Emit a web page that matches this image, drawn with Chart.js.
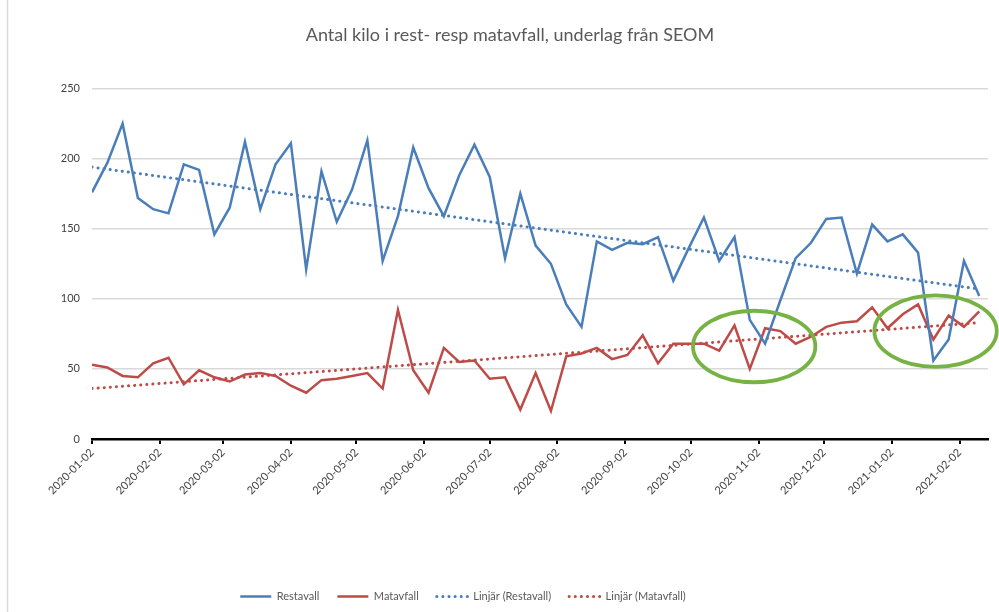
<!DOCTYPE html>
<html lang="sv">
<head>
<meta charset="UTF-8">
<script src="https://cdnjs.cloudflare.com/ajax/libs/Chart.js/4.4.1/chart.umd.min.js"></script>
<style>
  html, body { margin: 0; padding: 0; background: #fff; }
</style>
<title>Antal kilo i rest- resp matavfall</title>
</head>
<body>
<canvas id="canvas" width="999" height="612"></canvas>
<script>
// weekly samples
const weeks = [
  '2020-01-02','2020-01-09','2020-01-16','2020-01-23','2020-01-30',
  '2020-02-06','2020-02-13','2020-02-20','2020-02-27',
  '2020-03-05','2020-03-12','2020-03-19','2020-03-26',
  '2020-04-02','2020-04-09','2020-04-16','2020-04-23','2020-04-30',
  '2020-05-07','2020-05-14','2020-05-21','2020-05-28',
  '2020-06-04','2020-06-11','2020-06-18','2020-06-25',
  '2020-07-02','2020-07-09','2020-07-16','2020-07-23','2020-07-30',
  '2020-08-06','2020-08-13','2020-08-20','2020-08-27',
  '2020-09-03','2020-09-10','2020-09-17','2020-09-24',
  '2020-10-01','2020-10-08','2020-10-15','2020-10-22','2020-10-29',
  '2020-11-05','2020-11-12','2020-11-19','2020-11-26',
  '2020-12-03','2020-12-10','2020-12-17','2020-12-24','2020-12-31',
  '2021-01-07','2021-01-14','2021-01-21','2021-01-28',
  '2021-02-04','2021-02-11'
];
const restavall = [
  176, 197, 225, 172, 164, 161, 196, 192, 146, 165,
  212, 164, 196, 211, 121, 191, 155, 178, 213, 127,
  159, 208, 179, 159, 188, 210, 187, 129, 175, 138,
  125, 96, 80, 141, 135, 140, 139, 144, 113, 136,
  158, 127, 144, 85, 68, 99, 129, 140, 157, 158,
  118, 153, 141, 146, 133, 56, 71, 127, 102
];
const matavfall = [
  53, 51, 45, 44, 54, 58, 39, 49, 44, 41,
  46, 47, 45, 38, 33, 42, 43, 45, 47, 36,
  92, 49, 33, 65, 55, 56, 43, 44, 21, 47,
  20, 59, 61, 65, 57, 60, 74, 54, 68, 68,
  68, 63, 81, 50, 79, 77, 68, 73, 80, 83,
  84, 94, 79, 89, 96, 71, 88, 80, 91
];
// trend lines (Linjär), read at first and last week
const trendDates = ['2020-01-02', '2021-02-11'];
const trendRestavall = [194, 107];
const trendMatavfall = [36, 83];
const tickDates = [
  '2020-01-02','2020-02-02','2020-03-02','2020-04-02','2020-05-02','2020-06-02','2020-07-02',
  '2020-08-02','2020-09-02','2020-10-02','2020-11-02','2020-12-02','2021-01-02','2021-02-02'
];

const day = s => (Date.parse(s) - Date.parse(weeks[0])) / 864e5;
const pts = (dates, vals) => dates.map((d, i) => ({x: day(d), y: vals[i]}));

// green rings drawn over the plot
const rings = [
  {center: '2020-10-31', value: 66, halfDays: 28, halfValue: 25.5},
  {center: '2021-01-22', value: 77, halfDays: 28, halfValue: 25.5}
];

const background = {
  id: 'background',
  afterLayout(chart) {
    // title sits a bit right of centre, legend a bit left
    chart.titleBlock.left += 32;
    chart.legend.left -= 31;
    chart.legend.right -= 31;
  },
  beforeDraw(chart) {
    const ctx = chart.ctx;
    ctx.save();
    ctx.fillStyle = '#fff';
    ctx.fillRect(0, 0, chart.width, chart.height);
    ctx.strokeStyle = '#d9d9d9';
    ctx.lineWidth = 1.5;
    ctx.beginPath();
    ctx.moveTo(7.5, 0);
    ctx.lineTo(7.5, chart.height);
    ctx.stroke();
    ctx.restore();
  }
};

const ringPlugin = {
  id: 'rings',
  afterDatasetsDraw(chart) {
    const {ctx, scales: {x, y}} = chart;
    ctx.save();
    ctx.strokeStyle = '#77b244';
    ctx.lineWidth = 3.8;
    rings.forEach(r => {
      const cx = x.getPixelForValue(day(r.center));
      const cy = y.getPixelForValue(r.value);
      const rx = x.getPixelForValue(day(r.center) + r.halfDays) - cx;
      const ry = cy - y.getPixelForValue(r.value + r.halfValue);
      ctx.beginPath();
      ctx.ellipse(cx, cy, rx, ry, 0, 0, Math.PI * 2);
      ctx.stroke();
    });
    ctx.restore();
  }
};

Chart.defaults.font.family = 'Lato, sans-serif';

const blue = '#4a7ebb';
const red = '#be4b48';

new Chart(document.getElementById('canvas'), {
  type: 'line',
  data: {
    datasets: [
      {label: 'Restavall', data: pts(weeks, restavall), borderColor: blue, backgroundColor: blue,
       borderWidth: 2.5, pointRadius: 0, tension: 0},
      {label: 'Matavfall', data: pts(weeks, matavfall), borderColor: red, backgroundColor: red,
       borderWidth: 2.5, pointRadius: 0, tension: 0},
      {label: 'Linjär (Restavall)', data: pts(trendDates, trendRestavall), borderColor: blue, backgroundColor: blue,
       borderWidth: 3, borderDash: [0.1, 6], borderCapStyle: 'round', pointRadius: 0},
      {label: 'Linjär (Matavfall)', data: pts(trendDates, trendMatavfall), borderColor: red, backgroundColor: red,
       borderWidth: 3, borderDash: [0.1, 6], borderCapStyle: 'round', pointRadius: 0}
    ]
  },
  options: {
    responsive: false,
    animation: false,
    layout: {padding: {left: 0, right: 11, top: 0, bottom: 0}},
    plugins: {
      title: {
        display: true,
        text: 'Antal kilo i rest- resp matavfall, underlag från SEOM',
        color: '#595959',
        font: {size: 18, weight: 'normal'},
        padding: {top: 24, bottom: 43}
      },
      legend: {
        position: 'bottom',
        labels: {
          usePointStyle: true,
          pointStyle: 'line',
          pointStyleWidth: 31,
          color: '#595959',
          font: {size: 11},
          padding: 18,
          generateLabels: chart => Chart.defaults.plugins.legend.labels.generateLabels(chart).map(item => {
            const ds = chart.data.datasets[item.datasetIndex];
            return Object.assign(item, {
              strokeStyle: ds.borderColor,
              lineWidth: ds.borderWidth,
              lineDash: ds.borderDash || [],
              lineCap: ds.borderCapStyle || 'butt'
            });
          })
        }
      },
      tooltip: {enabled: false}
    },
    scales: {
      x: {
        type: 'linear',
        min: 0,
        max: 410,
        afterBuildTicks: s => { s.ticks = tickDates.map(d => ({value: day(d)})); },
        afterFit: s => { s.height = 134; },
        ticks: {
          autoSkip: false,
          minRotation: 45,
          maxRotation: 45,
          color: '#404040',
          font: {size: 11},
          padding: 2,
          callback: (v, i) => tickDates[i]
        },
        grid: {drawOnChartArea: false, color: '#000', lineWidth: 2, tickLength: 5},
        border: {color: '#000', width: 2.5}
      },
      y: {
        min: 0,
        max: 250,
        afterFit: s => { s.width = 92; },
        ticks: {stepSize: 50, color: '#404040', font: {size: 11}, padding: 12},
        grid: {color: '#d9d9d9', lineWidth: 1.5, drawTicks: false},
        border: {display: false}
      }
    }
  },
  plugins: [background, ringPlugin]
});
</script>
</body>
</html>
